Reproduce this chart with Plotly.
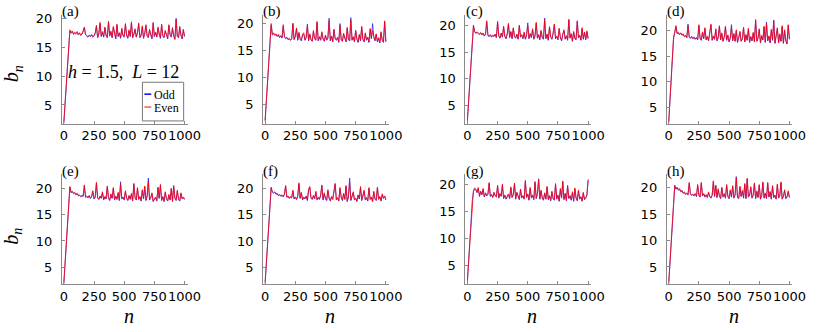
import plotly.graph_objects as go

W, H = 830, 332

# ---------------- data ----------------
n_values = list(range(0, 1001, 10))

odd_a = [1.8, 5.4, 9.0, 12.6, 16.1, 17.9, 17.5, 17.8, 17.3, 17.5,
         17.4, 17.6, 17.2, 17.5, 17.1, 17.3, 17.8, 18.4, 17.2, 17.0,
         16.8, 17.1, 16.9, 17.2, 16.8, 17.0, 17.5, 18.7, 16.7, 17.3,
         19.2, 16.9, 17.6, 16.8, 18.4, 17.1, 16.7, 19.4, 17.0, 17.7,
         16.7, 18.5, 17.2, 16.5, 18.9, 16.9, 17.5, 16.6, 18.2, 17.0,
         16.8, 19.0, 17.1, 16.6, 17.9, 16.9, 19.3, 16.7, 17.3, 18.1,
         16.8, 17.5, 19.1, 16.7, 17.1, 18.6, 16.6, 17.4, 18.8, 17.0,
         16.7, 18.0, 17.2, 16.5, 19.2, 16.9, 17.6, 16.8, 18.4, 17.1,
         16.6, 18.9, 17.0, 16.7, 17.8, 17.3, 16.5, 18.8, 17.2, 16.8,
         18.3, 17.0, 16.4, 20.1, 16.9, 16.7, 18.5, 17.1, 16.5, 18.0, 16.9]
even_a = [2.0, 5.6, 9.2, 12.8, 16.3, 18.1, 17.6, 17.9, 17.4, 17.7,
          17.5, 17.8, 17.3, 17.6, 17.2, 17.4, 17.9, 18.6, 17.3, 17.1,
          16.9, 17.2, 17.0, 17.3, 16.9, 17.1, 17.6, 18.9, 16.8, 17.5,
          19.4, 17.0, 17.8, 16.9, 18.6, 17.2, 16.8, 19.6, 17.1, 17.9,
          16.8, 18.7, 17.3, 16.6, 19.1, 17.0, 17.6, 16.7, 18.4, 17.1,
          16.9, 19.2, 17.2, 16.7, 18.1, 17.0, 19.5, 16.8, 17.4, 18.3,
          16.9, 17.6, 19.3, 16.8, 17.2, 18.8, 16.7, 17.5, 19.0, 17.1,
          16.8, 18.2, 17.3, 16.6, 19.4, 17.0, 17.7, 16.9, 18.6, 17.2,
          16.7, 19.1, 17.1, 16.8, 18.0, 17.4, 16.6, 19.0, 17.3, 16.9,
          18.5, 17.1, 16.5, 19.9, 17.0, 16.8, 18.7, 17.2, 16.6, 18.2, 17.0]

odd_b = [1.9, 5.6, 9.4, 13.2, 17.0, 19.6, 17.8, 18.0, 17.7, 17.9,
         17.5, 17.8, 17.3, 17.6, 17.2, 19.4, 17.4, 17.1, 17.3, 16.9,
         17.1, 16.8, 17.0, 19.8, 16.9, 17.5, 18.9, 16.8, 18.1, 17.0,
         16.7, 17.8, 18.0, 16.8, 17.3, 19.8, 16.7, 17.9, 16.9, 16.6,
         18.4, 17.1, 16.8, 20.1, 16.7, 17.4, 16.8, 18.2, 17.0, 16.6,
         17.7, 16.8, 17.2, 20.9, 16.7, 17.5, 16.5, 18.7, 17.1, 16.8,
         17.3, 16.4, 19.9, 16.9, 16.6, 18.0, 17.2, 16.5, 19.0, 16.9,
         16.7, 21.0, 16.8, 17.4, 16.5, 18.5, 17.0, 16.4, 17.8, 16.7,
         19.2, 16.9, 16.5, 18.0, 16.8, 17.3, 16.4, 18.8, 17.1, 19.9,
         17.4, 16.7, 17.9, 16.5, 17.2, 16.3, 18.2, 16.8, 16.4, 20.2, 16.5]
even_b = [2.1, 5.8, 9.6, 13.4, 17.2, 19.9, 17.9, 18.2, 17.8, 18.0,
          17.6, 17.9, 17.4, 17.7, 17.3, 19.7, 17.5, 17.2, 17.4, 17.0,
          17.2, 16.9, 17.1, 20.0, 17.0, 17.6, 19.1, 16.9, 18.3, 17.1,
          16.8, 17.9, 18.2, 16.9, 17.4, 19.5, 16.8, 18.0, 17.0, 16.7,
          18.6, 17.2, 16.9, 20.3, 16.8, 17.5, 16.9, 18.4, 17.1, 16.7,
          17.8, 16.9, 17.3, 20.4, 16.8, 17.6, 16.6, 18.9, 17.2, 16.9,
          17.4, 16.5, 19.6, 17.0, 16.7, 18.1, 17.3, 16.6, 19.2, 17.0,
          16.8, 20.5, 16.9, 17.5, 16.6, 18.7, 17.1, 16.5, 17.9, 16.8,
          19.4, 17.0, 16.6, 18.2, 16.9, 17.4, 16.5, 19.0, 17.2, 18.6,
          17.5, 16.8, 18.0, 16.6, 17.3, 16.4, 18.4, 16.9, 16.5, 20.4, 16.6]

odd_c = [2.0, 6.0, 9.9, 13.8, 17.7, 19.9, 18.8, 18.5, 18.7, 18.4,
         18.3, 18.6, 18.2, 18.5, 18.0, 18.3, 20.7, 18.1, 17.9, 18.2,
         17.8, 18.1, 17.9, 18.3, 17.7, 20.6, 18.0, 17.6, 18.5, 17.8,
         19.7, 17.9, 17.5, 18.4, 20.2, 17.7, 18.8, 17.5, 19.4, 17.9,
         17.6, 18.3, 17.4, 19.9, 17.8, 18.2, 17.5, 18.6, 17.4, 18.1,
         20.5, 17.5, 18.4, 17.7, 19.2, 17.4, 18.0, 20.4, 17.6, 18.2,
         17.3, 18.9, 17.7, 17.4, 21.4, 17.5, 18.3, 17.2, 19.6, 17.8,
         17.4, 18.5, 20.1, 17.5, 17.9, 17.3, 19.3, 17.7, 17.1, 18.3,
         19.0, 17.4, 18.0, 17.2, 21.0, 17.6, 18.4, 17.0, 18.7, 17.5,
         17.3, 20.9, 17.7, 18.1, 17.2, 19.4, 17.4, 18.7, 17.3, 18.8, 17.5]
even_c = [2.3, 6.2, 10.1, 14.0, 17.9, 20.1, 18.9, 18.6, 18.8, 18.5,
          18.4, 18.7, 18.3, 18.6, 18.1, 18.4, 20.9, 18.2, 18.0, 18.3,
          17.9, 18.2, 18.0, 18.4, 17.8, 20.8, 18.1, 17.7, 18.6, 17.9,
          19.9, 18.0, 17.6, 18.5, 20.4, 17.8, 18.9, 17.6, 19.6, 18.0,
          17.7, 18.4, 17.5, 20.1, 17.9, 18.3, 17.6, 18.8, 17.5, 18.2,
          20.0, 17.6, 18.5, 17.8, 19.4, 17.5, 18.1, 20.6, 17.7, 18.3,
          17.4, 19.1, 17.8, 17.5, 21.1, 17.6, 18.4, 17.3, 19.8, 17.9,
          17.5, 18.6, 20.3, 17.6, 18.0, 17.4, 19.5, 17.8, 17.2, 18.4,
          19.2, 17.5, 18.1, 17.3, 21.2, 17.7, 18.5, 17.1, 18.9, 17.6,
          17.4, 20.7, 17.8, 18.2, 17.3, 19.6, 17.5, 18.8, 17.4, 19.0, 17.6]

odd_d = [1.9, 6.0, 10.2, 14.3, 18.4, 19.6, 20.8, 19.4, 19.6, 19.2,
         19.5, 19.1, 19.3, 18.8, 19.0, 18.6, 21.3, 18.7, 18.5, 18.8,
         18.4, 18.7, 18.3, 18.6, 18.2, 21.0, 18.5, 18.1, 19.6, 18.4,
         20.4, 18.2, 18.8, 18.0, 19.2, 21.1, 18.1, 18.9, 18.3, 20.2,
         18.0, 18.6, 20.8, 18.2, 19.4, 17.9, 18.7, 20.7, 18.1, 19.0,
         17.8, 18.5, 21.2, 18.0, 19.3, 17.9, 20.0, 17.7, 18.6, 19.7,
         17.9, 18.4, 20.5, 17.8, 19.1, 18.1, 20.3, 17.7, 18.8, 18.0,
         19.5, 17.8, 22.0, 17.9, 18.5, 20.2, 17.6, 18.9, 18.2, 20.7,
         17.7, 21.7, 18.0, 18.9, 17.6, 20.1, 18.1, 22.1, 17.5, 18.7,
         20.4, 17.6, 19.2, 17.9, 20.8, 17.5, 20.0, 18.0, 17.4, 21.0, 18.3]
even_d = [2.2, 6.3, 10.4, 14.5, 18.6, 19.8, 21.0, 19.5, 19.7, 19.3,
          19.6, 19.2, 19.4, 18.9, 19.1, 18.7, 21.1, 18.8, 18.6, 18.9,
          18.5, 18.8, 18.4, 18.7, 18.3, 21.2, 18.6, 18.2, 19.8, 18.5,
          20.6, 18.3, 18.9, 18.1, 19.4, 21.3, 18.2, 19.0, 18.4, 20.4,
          18.1, 18.7, 21.0, 18.3, 19.6, 18.0, 18.8, 20.9, 18.2, 19.2,
          17.9, 18.6, 20.8, 18.1, 19.5, 18.0, 20.2, 17.8, 18.7, 19.9,
          18.0, 18.5, 20.7, 17.9, 19.3, 18.2, 20.5, 17.8, 18.9, 18.1,
          19.7, 17.9, 22.2, 18.0, 18.6, 20.4, 17.7, 19.1, 18.3, 20.9,
          17.8, 21.4, 18.1, 19.0, 17.7, 20.3, 18.2, 21.9, 17.6, 18.8,
          20.6, 17.7, 19.4, 18.0, 21.0, 17.6, 20.2, 18.1, 17.5, 21.2, 18.4]

odd_e = [1.8, 5.8, 9.8, 13.8, 17.8, 20.2, 19.2, 19.4, 19.0, 19.2,
         18.8, 19.0, 18.6, 18.7, 18.4, 18.6, 18.5, 20.5, 18.3, 18.5,
         18.2, 18.6, 18.1, 18.4, 19.4, 18.0, 18.3, 21.0, 18.2, 17.9,
         18.5, 18.1, 19.2, 17.8, 18.4, 18.0, 20.3, 18.2, 17.7, 18.8,
         18.1, 20.0, 17.8, 18.5, 17.9, 19.1, 17.7, 21.3, 18.0, 18.3,
         17.8, 19.4, 18.1, 17.7, 18.6, 17.9, 18.9, 17.6, 20.8, 18.2,
         17.8, 20.0, 17.9, 18.4, 17.6, 19.6, 18.0, 20.3, 17.7, 18.5,
         22.0, 17.8, 18.2, 19.0, 17.5, 17.9, 18.3, 17.6, 20.1, 18.1,
         20.6, 17.7, 18.4, 17.5, 19.2, 18.0, 17.6, 18.7, 17.8, 19.9,
         17.5, 20.4, 18.1, 17.7, 19.5, 17.9, 17.6, 19.0, 18.0, 18.3, 17.9]
even_e = [2.0, 6.0, 10.0, 14.0, 18.0, 20.4, 19.3, 19.5, 19.1, 19.3,
          18.9, 19.1, 18.7, 18.8, 18.5, 18.7, 18.6, 20.7, 18.4, 18.6,
          18.3, 18.7, 18.2, 18.5, 19.6, 18.1, 18.4, 21.2, 18.3, 18.0,
          18.6, 18.2, 19.4, 17.9, 18.5, 18.1, 20.5, 18.3, 17.8, 19.0,
          18.2, 20.2, 17.9, 18.6, 18.0, 19.3, 17.8, 20.8, 18.1, 18.4,
          17.9, 19.6, 18.2, 17.8, 18.7, 18.0, 19.1, 17.7, 21.0, 18.3,
          17.9, 20.2, 18.0, 18.5, 17.7, 19.8, 18.1, 20.5, 17.8, 18.6,
          21.4, 17.9, 18.3, 19.2, 17.6, 18.0, 18.4, 17.7, 20.3, 18.2,
          20.8, 17.8, 18.5, 17.6, 19.4, 18.1, 17.7, 18.9, 17.9, 20.1,
          17.6, 20.6, 18.2, 17.8, 19.7, 18.0, 17.7, 19.2, 18.1, 18.4, 18.0]

odd_f = [1.9, 5.9, 9.9, 13.9, 17.9, 20.1, 19.3, 19.1, 19.3, 18.9,
         19.0, 18.6, 18.8, 18.5, 18.7, 18.4, 18.9, 20.4, 18.3, 18.5,
         18.1, 18.4, 18.2, 19.5, 18.0, 18.3, 17.9, 18.5, 20.9, 18.1,
         19.1, 17.8, 18.3, 18.0, 18.5, 17.7, 19.7, 20.2, 18.2, 17.9,
         18.6, 18.0, 19.3, 17.8, 18.3, 17.9, 18.7, 20.5, 17.8, 19.0,
         18.0, 17.7, 19.6, 18.1, 17.6, 18.4, 17.9, 19.4, 20.8, 17.8,
         18.2, 17.6, 20.0, 18.3, 17.7, 18.9, 17.9, 20.4, 17.5, 18.4,
         22.0, 17.7, 18.6, 19.2, 17.8, 18.1, 17.5, 18.7, 18.0, 20.2,
         17.7, 18.5, 19.5, 17.8, 18.2, 17.6, 20.0, 17.9, 18.3, 17.5,
         19.3, 18.0, 17.7, 20.1, 17.9, 18.4, 17.6, 18.8, 18.1, 18.5, 17.8]
even_f = [2.1, 6.1, 10.1, 14.1, 18.1, 20.3, 19.4, 19.2, 19.4, 19.0,
          19.1, 18.7, 18.9, 18.6, 18.8, 18.5, 19.0, 20.6, 18.4, 18.6,
          18.2, 18.5, 18.3, 19.7, 18.1, 18.4, 18.0, 18.6, 21.1, 18.2,
          19.3, 17.9, 18.4, 18.1, 18.6, 17.8, 19.9, 20.4, 18.3, 18.0,
          18.7, 18.1, 19.5, 17.9, 18.4, 18.0, 18.8, 20.7, 17.9, 19.2,
          18.1, 17.8, 19.8, 18.2, 17.7, 18.5, 18.0, 19.6, 21.0, 17.9,
          18.3, 17.7, 20.2, 18.4, 17.8, 19.1, 18.0, 20.6, 17.6, 18.5,
          21.3, 17.8, 18.7, 19.4, 17.9, 18.2, 17.6, 18.8, 18.1, 20.4,
          17.8, 18.6, 19.7, 17.9, 18.3, 17.7, 20.2, 18.0, 18.4, 17.6,
          19.5, 18.1, 17.8, 20.3, 18.0, 18.5, 17.7, 19.0, 18.2, 18.6, 17.9]

odd_g = [1.9, 5.8, 9.6, 13.3, 17.0, 18.7, 19.2, 19.0, 18.5, 19.3,
         17.8, 18.7, 18.1, 19.1, 17.7, 18.4, 17.9, 18.2, 20.2, 17.8,
         18.1, 17.6, 18.5, 17.9, 17.7, 19.7, 17.5, 18.3, 17.8, 19.9,
         17.4, 18.0, 17.3, 17.7, 18.2, 17.4, 19.4, 17.6, 18.1, 20.1,
         17.3, 18.5, 17.7, 17.2, 19.0, 17.5, 17.9, 17.3, 20.6, 17.6,
         18.2, 17.1, 19.3, 17.5, 18.0, 17.2, 20.4, 17.4, 18.3, 21.1,
         17.3, 18.8, 17.5, 17.1, 18.4, 17.3, 19.5, 17.2, 17.9, 17.0,
         18.6, 17.4, 17.1, 20.0, 17.3, 18.0, 16.9, 19.1, 17.5, 20.7,
         17.2, 18.3, 17.0, 19.7, 17.4, 17.9, 17.1, 18.5, 16.9, 19.2,
         17.5, 17.0, 18.8, 17.3, 17.7, 16.9, 18.4, 17.2, 17.5, 18.0, 20.8]
even_g = [2.4, 6.1, 9.8, 13.5, 17.2, 18.9, 19.4, 19.2, 18.6, 19.5,
          17.9, 18.8, 18.2, 19.3, 17.8, 18.5, 18.0, 18.3, 20.4, 17.9,
          18.2, 17.7, 18.6, 18.0, 17.8, 19.9, 17.6, 18.4, 17.9, 20.1,
          17.5, 18.1, 17.4, 17.8, 18.3, 17.5, 19.6, 17.7, 18.2, 20.3,
          17.4, 18.6, 17.8, 17.3, 19.2, 17.6, 18.0, 17.4, 20.8, 17.7,
          18.3, 17.2, 19.5, 17.6, 18.1, 17.3, 20.6, 17.5, 18.4, 20.9,
          17.4, 19.0, 17.6, 17.2, 18.5, 17.4, 19.7, 17.3, 18.0, 17.1,
          18.8, 17.5, 17.2, 20.2, 17.4, 18.1, 17.0, 19.3, 17.6, 20.5,
          17.3, 18.4, 17.1, 19.9, 17.5, 18.0, 17.2, 18.7, 17.0, 19.4,
          17.6, 17.1, 19.0, 17.4, 17.8, 17.0, 18.6, 17.3, 17.6, 18.2, 21.0]

odd_h = [1.8, 5.9, 10.0, 14.1, 18.2, 20.3, 19.7, 20.0, 19.5, 19.7,
         19.2, 19.4, 18.9, 19.1, 18.7, 18.9, 18.6, 20.8, 18.8, 18.5,
         18.7, 18.4, 18.8, 18.3, 20.4, 18.5, 18.2, 20.8, 18.4, 18.8,
         18.2, 18.6, 18.1, 19.0, 18.3, 18.0, 18.5, 21.1, 18.3, 20.3,
         18.1, 19.6, 18.4, 17.9, 19.9, 18.2, 18.8, 18.0, 20.4, 18.3,
         17.9, 19.4, 18.2, 20.2, 18.0, 18.6, 22.1, 18.1, 17.9, 20.1,
         18.3, 19.3, 18.0, 20.6, 17.9, 21.6, 18.2, 18.5, 20.0, 18.0,
         18.6, 20.7, 17.9, 19.2, 18.1, 20.4, 17.8, 18.4, 20.9, 18.0,
         18.9, 17.9, 20.8, 18.2, 19.1, 17.8, 20.2, 18.1, 18.5, 17.8,
         20.5, 18.0, 18.4, 20.9, 17.8, 18.3, 19.4, 17.9, 18.2, 19.2, 18.1]
even_h = [2.0, 6.1, 10.2, 14.3, 18.4, 20.5, 19.8, 20.1, 19.6, 19.8,
          19.3, 19.5, 19.0, 19.2, 18.8, 19.0, 18.7, 21.0, 18.9, 18.6,
          18.8, 18.5, 18.9, 18.4, 20.6, 18.6, 18.3, 21.0, 18.5, 18.9,
          18.3, 18.7, 18.2, 19.2, 18.4, 18.1, 18.6, 21.3, 18.4, 20.5,
          18.2, 19.8, 18.5, 18.0, 20.1, 18.3, 18.9, 18.1, 20.6, 18.4,
          18.0, 19.6, 18.3, 20.4, 18.1, 18.7, 21.9, 18.2, 18.0, 20.3,
          18.4, 19.5, 18.1, 20.8, 18.0, 21.8, 18.3, 18.6, 20.2, 18.1,
          18.7, 20.9, 18.0, 19.4, 18.2, 20.6, 17.9, 18.5, 21.1, 18.1,
          19.0, 18.0, 21.0, 18.3, 19.3, 17.9, 20.4, 18.2, 18.6, 17.9,
          20.7, 18.1, 18.5, 21.1, 17.9, 18.4, 19.6, 18.0, 18.3, 19.4, 18.2]

panel_labels = ["(a)", "(b)", "(c)", "(d)", "(e)", "(f)", "(g)", "(h)"]
odd_series = [odd_a, odd_b, odd_c, odd_d, odd_e, odd_f, odd_g, odd_h]
even_series = [even_a, even_b, even_c, even_d, even_e, even_f, even_g, even_h]
x_tick_vals = [0, 250, 500, 750, 1000]
y_tick_vals = [5, 10, 15, 20]
series_names = ["Odd", "Even"]

# ---------------- layout helpers ----------------
def px_x(p):
    return p / W

def px_y(p):
    return 1 - p / H

col_left = [61, 266, 472, 677]
col_width = 128
row_top = [(12, 122), (173, 284)]
y_ranges = [[1.7, 20.7], [1.4, 21.5], [1.5, 22.0], [1.8, 23.1],
            [1.7, 22.7], [1.7, 22.7], [1.5, 21.9], [1.7, 22.5]]

ODD_COLOR = "rgba(20,20,255,0.7)"
EVEN_COLOR = "rgba(255,0,0,0.82)"
AXIS_COLOR = "#8a8a8a"
SERIF = "Liberation Serif"
SANS = "DejaVu Sans"

fig = go.Figure()
layout = dict(width=W, height=H, margin=dict(l=0, r=0, t=0, b=0),
              paper_bgcolor="white", plot_bgcolor="white", showlegend=False,
              font=dict(family=SANS, size=13, color="black"))
annotations = []
shapes = []

for i in range(8):
    r, c = divmod(i, 4)
    k = i + 1
    xa = "xaxis" if k == 1 else f"xaxis{k}"
    ya = "yaxis" if k == 1 else f"yaxis{k}"
    xref = "x" if k == 1 else f"x{k}"
    yref = "y" if k == 1 else f"y{k}"
    top, bot = row_top[r]
    layout[xa] = dict(domain=[px_x(col_left[c]), px_x(col_left[c] + col_width)],
                      anchor=yref, range=[-16, 1025], tickmode="array",
                      tickvals=x_tick_vals, ticks="inside", ticklen=3,
                      tickcolor=AXIS_COLOR, showline=True, linecolor=AXIS_COLOR,
                      linewidth=1, showgrid=False, zeroline=False, tickangle=0,
                      ticklabelstandoff=0,
                      tickfont=dict(family=SANS, size=13, color="black"))
    layout[ya] = dict(domain=[px_y(bot), px_y(top)], anchor=xref,
                      range=y_ranges[i], tickmode="array", tickvals=y_tick_vals,
                      ticks="inside", ticklen=3, tickcolor=AXIS_COLOR,
                      showline=True, linecolor=AXIS_COLOR, linewidth=1,
                      showgrid=False, zeroline=False, ticklabelstandoff=6,
                      tickfont=dict(family=SANS, size=13, color="black"))
    fig.add_trace(go.Scatter(x=n_values, y=odd_series[i], mode="lines",
                             name=series_names[0], xaxis=xref, yaxis=yref,
                             line=dict(color=ODD_COLOR, width=1)))
    fig.add_trace(go.Scatter(x=n_values, y=even_series[i], mode="lines",
                             name=series_names[1], xaxis=xref, yaxis=yref,
                             line=dict(color=EVEN_COLOR, width=1)))
    annotations.append(dict(text=panel_labels[i], xref="paper", yref="paper",
                            x=px_x(col_left[c] - 2), y=px_y(top - 3),
                            xanchor="left", yanchor="middle", showarrow=False,
                            font=dict(family=SERIF, size=15, color="black")))

# axis titles
for r, yc in enumerate([71, 235]):
    annotations.append(dict(text="<i>b</i><sub><i>n</i></sub>", xref="paper",
                            yref="paper", x=px_x(11), y=px_y(yc), textangle=-90,
                            xanchor="center", yanchor="middle", showarrow=False,
                            font=dict(family=SERIF, size=20, color="black")))
for c in range(4):
    annotations.append(dict(text="<i>n</i>", xref="paper", yref="paper",
                            x=px_x(col_left[c] + 68), y=px_y(316),
                            xanchor="center", yanchor="middle", showarrow=False,
                            font=dict(family=SERIF, size=20, color="black")))

# parameter text in panel (a)
annotations.append(dict(text="<i>h</i> = 1.5,  <i>L</i> = 12", xref="paper",
                        yref="paper", x=px_x(124), y=px_y(70), xanchor="center",
                        yanchor="middle", showarrow=False,
                        font=dict(family=SERIF, size=18, color="black")))

# legend box in panel (a)
shapes.append(dict(type="rect", xref="paper", yref="paper",
                   x0=px_x(143), x1=px_x(185), y0=px_y(119), y1=px_y(80),
                   line=dict(color="#777777", width=1), fillcolor="white"))
for j, (yc, col) in enumerate([(92, "rgb(0,0,255)"), (105, "rgba(255,0,0,0.65)")]):
    shapes.append(dict(type="line", xref="paper", yref="paper",
                       x0=px_x(145), x1=px_x(152), y0=px_y(yc), y1=px_y(yc),
                       line=dict(color=col, width=1.5)))
    annotations.append(dict(text=series_names[j], xref="paper", yref="paper",
                            x=px_x(154), y=px_y(yc + 1), xanchor="left",
                            yanchor="middle", showarrow=False, borderpad=0,
                            font=dict(family=SERIF, size=12, color="black")))

layout["annotations"] = annotations
layout["shapes"] = shapes
fig.update_layout(**layout)
fig.write_html("out.html", config={"displayModeBar": False},
               post_script="document.body.style.margin='0';document.body.style.padding='0';")
